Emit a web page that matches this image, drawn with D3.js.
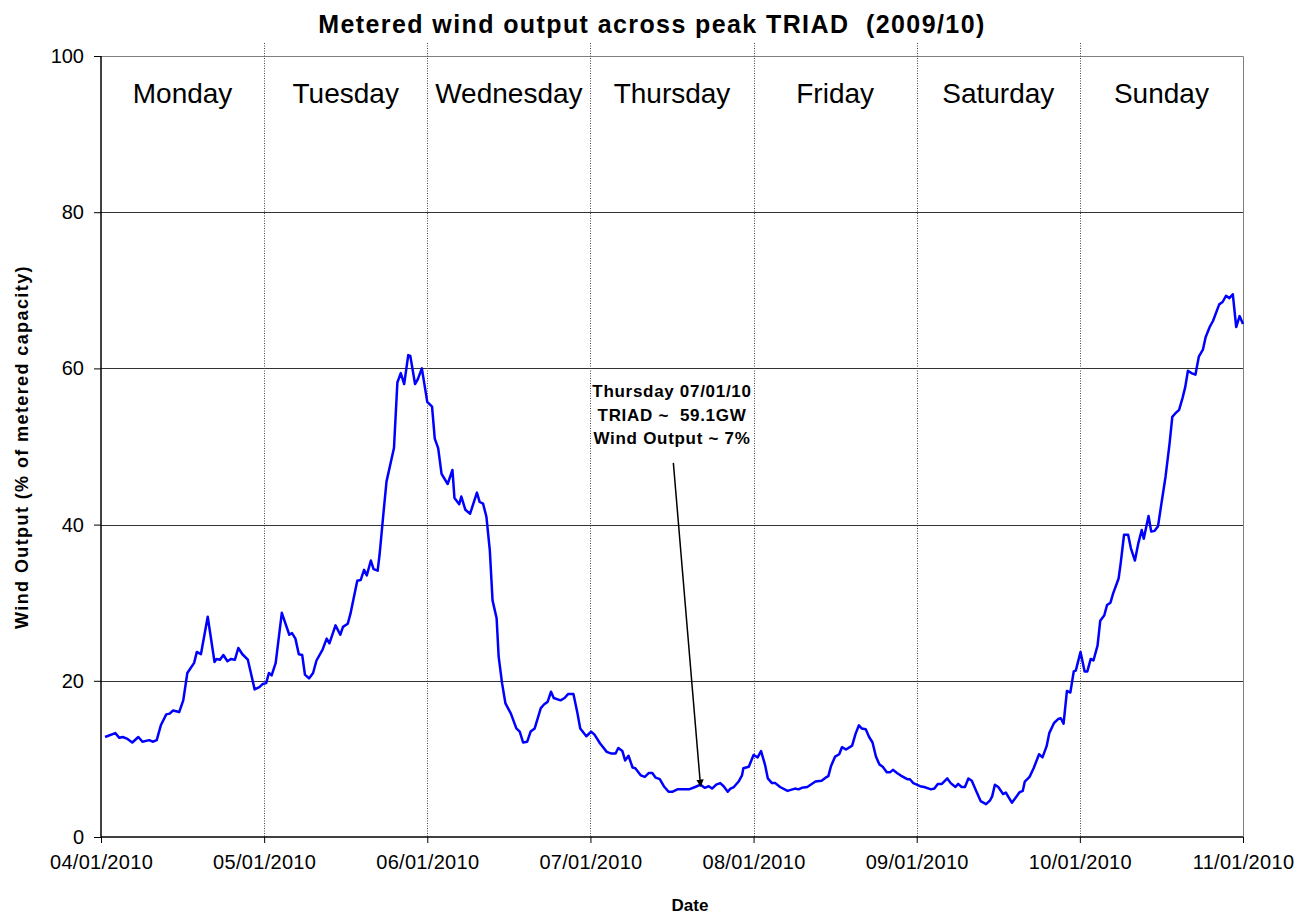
<!DOCTYPE html>
<html>
<head>
<meta charset="utf-8">
<script src="https://cdn.jsdelivr.net/npm/d3@7"></script>
<style>
    body { margin: 0; background: #fff; }
    text { font-family: Arial, "Liberation Sans", sans-serif; }
</style>
</head>
<body>
<div class="chart__container"></div>
<script>
//initialisation
const CHART__WIDTH = 1295;
const CHART__HEIGHT = 916;

const START_DATE = new Date(2010, 0, 4);
const DAY_NAMES = ["Monday", "Tuesday", "Wednesday", "Thursday", "Friday", "Saturday", "Sunday"];
const Y_TICKS = [0, 20, 40, 60, 80, 100];

//hours after 04/01/2010 00:00
const HOURS = [
    0.6, 2.1, 2.7, 3.2, 3.8, 4.6, 5.5, 6.1, 7.1, 7.6, 8.2, 8.8, 9.6, 10.1, 10.6, 11.5, 12.1, 12.7, 13.7, 14.1,
    14.7, 15.7, 16.7, 17.0, 17.5, 18.0, 18.6, 19.1, 19.7, 20.2, 20.8, 21.6, 22.0, 22.6, 23.3, 23.8, 24.3, 24.7, 25.1, 25.7,
    26.6, 27.7, 28.1, 28.6, 29.1, 29.6, 30.0, 30.6, 31.2, 31.7, 32.6, 33.2, 33.6, 34.5, 35.2, 35.6, 36.3, 36.7, 37.7, 38.2,
    38.7, 39.1, 39.7, 40.1, 40.7, 41.0, 41.5, 42.0, 43.1, 43.6, 44.1, 44.6, 45.2, 45.5, 46.2, 46.6, 47.2, 48.0, 48.7, 49.1,
    49.6, 50.1, 51.0, 51.7, 52.0, 52.7, 53.0, 53.6, 54.3, 55.3, 55.7, 56.2, 56.7, 57.2, 57.6, 58.2, 58.5, 59.0, 59.5, 60.3,
    61.1, 61.6, 62.1, 62.7, 63.2, 63.8, 64.7, 65.2, 65.7, 66.2, 66.6, 67.6, 68.2, 68.7, 69.5, 70.1, 70.5, 71.4, 72.1, 72.6,
    73.4, 74.4, 75.0, 75.7, 76.1, 76.7, 77.1, 77.6, 78.2, 78.6, 79.4, 80.0, 80.6, 81.1, 81.6, 82.2, 82.8, 83.5, 84.1, 84.8,
    86.5, 87.4, 88.2, 88.8, 89.4, 89.9, 90.5, 91.1, 91.6, 92.2, 92.6, 93.1, 93.8, 94.3, 94.5, 95.3, 96.0, 96.6, 97.1, 97.7,
    98.1, 98.7, 99.2, 99.9, 101.0, 102.1, 102.6, 103.1, 103.9, 105.1, 106.0, 106.6, 107.0, 107.4, 108.0, 108.6, 109.0, 109.6, 110.5, 111.0,
    111.5, 111.9, 112.5, 113.0, 113.5, 114.0, 114.5, 115.0, 115.6, 116.1, 116.5, 117.1, 117.6, 118.6, 119.0, 119.5, 120.0, 120.5, 121.1, 122.1,
    122.6, 123.1, 123.7, 124.5, 125.0, 125.7, 126.1, 126.6, 127.1, 127.6, 128.1, 128.8, 129.4, 130.2, 130.8, 131.1, 131.5, 132.0, 132.7, 133.1,
    134.0, 134.6, 135.1, 135.6, 135.9, 136.6, 137.2, 138.0, 138.5, 139.1, 139.5, 140.2, 140.8, 141.2, 141.6, 142.1, 142.6, 143.1, 143.4, 144.1,
    144.7, 145.1, 145.6, 146.0, 146.6, 147.0, 147.6, 148.0, 148.5, 148.9, 149.7, 150.0, 150.5, 151.1, 151.5, 152.1, 152.6, 153.1, 153.4, 154.1,
    154.5, 155.0, 155.5, 156.0, 156.6, 157.2, 157.6, 158.0, 158.6, 159.1, 159.5, 159.9, 160.4, 161.0, 161.5, 162.1, 162.5, 163.1, 163.6, 164.5,
    165.0, 165.5, 166.0, 166.5, 167.0, 167.5, 168.0
];

//wind output, % of metered capacity
const OUTPUT = [
    12.8, 13.3, 12.7, 12.8, 12.6, 12.1, 12.8, 12.2, 12.4, 12.2, 12.4, 14.3, 15.7, 15.8, 16.2, 16.0, 17.5, 21.0, 22.3, 23.7,
    23.4, 28.2, 22.4, 22.8, 22.7, 23.3, 22.5, 22.8, 22.7, 24.2, 23.4, 22.7, 21.2, 18.9, 19.2, 19.6, 19.7, 21.0, 20.7, 22.3,
    28.7, 25.9, 26.1, 25.4, 23.4, 23.3, 20.8, 20.3, 21.0, 22.6, 24.0, 25.4, 24.8, 27.1, 25.9, 26.9, 27.3, 28.6, 32.8, 32.9,
    34.2, 33.5, 35.4, 34.3, 34.1, 36.3, 41.0, 45.5, 49.8, 58.2, 59.4, 58.0, 61.7, 61.6, 58.0, 58.6, 60.0, 55.7, 55.1, 51.0,
    49.8, 46.5, 45.2, 47.0, 43.4, 42.6, 43.6, 41.9, 41.4, 44.1, 42.9, 42.7, 41.0, 36.7, 30.3, 28.0, 23.1, 19.7, 17.1, 15.8,
    13.9, 13.5, 12.1, 12.2, 13.5, 13.9, 16.5, 17.0, 17.3, 18.6, 17.8, 17.5, 17.8, 18.3, 18.3, 15.8, 13.9, 12.9, 13.5, 13.1,
    12.0, 10.9, 10.7, 10.7, 11.4, 11.0, 9.8, 10.4, 8.9, 8.8, 7.9, 7.7, 8.2, 8.2, 7.6, 7.4, 6.5, 5.8, 5.8, 6.1,
    6.1, 6.4, 6.7, 6.3, 6.5, 6.2, 6.7, 6.9, 6.5, 5.8, 6.2, 6.4, 7.1, 7.9, 8.8, 9.0, 10.5, 10.2, 11.0, 9.2,
    7.5, 6.9, 6.9, 6.4, 5.9, 6.2, 6.1, 6.3, 6.4, 7.1, 7.2, 7.6, 7.8, 9.1, 10.3, 10.6, 11.5, 11.2, 11.7, 13.2,
    14.3, 13.9, 13.8, 12.8, 12.1, 10.3, 9.3, 9.0, 8.3, 8.3, 8.6, 8.2, 7.9, 7.4, 7.4, 6.9, 6.7, 6.5, 6.4, 6.1,
    6.2, 6.8, 6.8, 7.5, 6.9, 6.4, 6.8, 6.4, 6.4, 7.5, 7.2, 5.8, 4.6, 4.2, 4.7, 5.2, 6.7, 6.4, 5.5, 5.7,
    4.4, 5.1, 5.7, 5.9, 7.1, 7.7, 8.8, 10.6, 10.2, 11.6, 13.3, 14.6, 15.1, 15.2, 14.5, 18.7, 18.5, 21.2, 21.3, 23.7,
    21.2, 21.2, 22.8, 22.6, 24.5, 27.7, 28.4, 29.7, 30.0, 31.2, 33.1, 35.0, 38.7, 38.7, 37.0, 35.4, 37.6, 39.3, 38.2, 41.1,
    39.1, 39.2, 39.8, 42.7, 46.1, 50.4, 53.8, 54.2, 54.7, 56.2, 57.6, 59.7, 59.4, 59.2, 61.5, 62.4, 64.0, 65.3, 66.1, 68.2,
    68.5, 69.3, 69.0, 69.5, 65.3, 66.7, 65.7
];

//annotation: arrow from text down to the TRIAD half hour
const NOTE_LINES = ["Thursday 07/01/10", "TRIAD ~  59.1GW", "Wind Output ~ 7%"];
const ARROW_FROM = { hour: 84.2, value: 47.9 };
const ARROW_TO = { hour: 88.2, value: 6.5 };

const MARGIN = {
    top: 56,
    right: 52,
    bottom: 79,
    left: 101
}

const toDate = h => d3.timeMinute.offset(START_DATE, Math.round(h * 60));
const END_DATE = d3.timeDay.offset(START_DATE, 7);
const DAYS = d3.timeDay.range(START_DATE, d3.timeDay.offset(END_DATE, 1));

const data = HOURS.map((h, i) => ({ date: toDate(h), value: OUTPUT[i] }));

//scales
const xScale = d3.scaleTime().domain([START_DATE, END_DATE]).range([MARGIN.left, CHART__WIDTH - MARGIN.right]);
const yScale = d3.scaleLinear().domain([0, 100]).range([CHART__HEIGHT - MARGIN.bottom, MARGIN.top]);

/*-----------------------------------Create element-----------------------------------*/

const svg = d3.select(".chart__container").append("svg")
    .attr("width", CHART__WIDTH)
    .attr("height", CHART__HEIGHT);

svg.append("defs").append("marker")
    .attr("id", "arrowhead")
    .attr("viewBox", "0 0 10 10")
    .attr("refX", 9)
    .attr("refY", 5)
    .attr("markerWidth", 5)
    .attr("markerHeight", 5)
    .attr("orient", "auto")
    .append("path")
    .attr("d", "M0,0 L10,5 L0,10 z")
    .attr("fill", "#000");

//horizontal grid
svg.append("g")
    .selectAll("line")
    .data(Y_TICKS.slice(1, -1))
    .enter()
    .append("line")
    .attr("x1", MARGIN.left)
    .attr("x2", CHART__WIDTH - MARGIN.right)
    .attr("y1", d => Math.round(yScale(d)) + 0.5)
    .attr("y2", d => Math.round(yScale(d)) + 0.5)
    .attr("stroke", "#333")
    .attr("stroke-width", 1);

//plot frame top and right
svg.append("path")
    .attr("d", `M${MARGIN.left},${yScale(100) + 0.5} H${CHART__WIDTH - MARGIN.right + 0.5} V${yScale(0)}`)
    .attr("fill", "none")
    .attr("stroke", "#808080")
    .attr("stroke-width", 1);

//dotted day separators
svg.append("g")
    .selectAll("line")
    .data(DAYS.slice(1, -1))
    .enter()
    .append("line")
    .attr("x1", d => Math.round(xScale(d)) + 0.5)
    .attr("x2", d => Math.round(xScale(d)) + 0.5)
    .attr("y1", yScale(100) - 13)
    .attr("y2", yScale(0))
    .attr("stroke", "#444")
    .attr("stroke-width", 1)
    .attr("stroke-dasharray", "1,1.5");

//day names
svg.append("g")
    .selectAll("text")
    .data(DAY_NAMES)
    .enter()
    .append("text")
    .attr("x", (d, i) => (xScale(DAYS[i]) + xScale(DAYS[i + 1])) / 2)
    .attr("y", 103)
    .attr("text-anchor", "middle")
    .attr("font-size", "28px")
    .attr("fill", "#000")
    .text(d => d);

//wind line
const line = d3.line()
    .x(d => xScale(d.date))
    .y(d => yScale(d.value));

svg.append("path")
    .datum(data)
    .attr("d", line)
    .attr("fill", "none")
    .attr("stroke", "#0000ff")
    .attr("stroke-width", 2.5)
    .attr("stroke-linejoin", "round");

//annotation
svg.append("line")
    .attr("x1", xScale(toDate(ARROW_FROM.hour)))
    .attr("y1", yScale(ARROW_FROM.value))
    .attr("x2", xScale(toDate(ARROW_TO.hour)))
    .attr("y2", yScale(ARROW_TO.value))
    .attr("stroke", "#000")
    .attr("stroke-width", 1.5)
    .attr("marker-end", "url(#arrowhead)");

svg.append("g")
    .selectAll("text")
    .data(NOTE_LINES)
    .enter()
    .append("text")
    .attr("x", 672)
    .attr("y", (d, i) => 397 + i * 23.5)
    .attr("text-anchor", "middle")
    .attr("font-size", "17px")
    .attr("font-weight", "bold")
    .attr("letter-spacing", "0.7px")
    .attr("xml:space", "preserve")
    .text(d => d);

//create x-axis
const abscissa = d3.axisBottom(xScale)
    .tickValues(DAYS)
    .tickFormat(d3.timeFormat("%d/%m/%Y"))
    .tickSize(6)
    .tickPadding(12);
const xAxis = svg.append("g")
    .attr("id", "x-axis")
    .attr("transform", `translate(0,${yScale(0)})`)
    .call(abscissa);

//create y-axis
const ordinate = d3.axisLeft(yScale)
    .tickValues(Y_TICKS)
    .tickSize(7)
    .tickPadding(10);
const yAxis = svg.append("g")
    .attr("id", "y-axis")
    .attr("transform", `translate(${MARGIN.left},0)`)
    .call(ordinate);

[xAxis, yAxis].forEach(g => {
    g.select(".domain").attr("stroke", "#000").attr("stroke-width", 1.5);
    g.selectAll(".tick line").attr("stroke", "#000");
    g.selectAll(".tick text")
        .attr("font-size", "20px")
        .attr("font-family", "Arial, 'Liberation Sans', sans-serif")
        .attr("fill", "#000");
});
xAxis.selectAll(".tick text").attr("letter-spacing", "0.3px");
xAxis.select(".domain").attr("d", `M${MARGIN.left},0H${CHART__WIDTH - MARGIN.right}`);
yAxis.select(".domain").attr("d", `M0,${yScale(0)}V${yScale(100)}`);

//titles
svg.append("text")
    .attr("x", 652)
    .attr("y", 33)
    .attr("text-anchor", "middle")
    .attr("font-size", "25px")
    .attr("font-weight", "bold")
    .attr("letter-spacing", "1.4px")
    .attr("xml:space", "preserve")
    .text("Metered wind output across peak TRIAD  (2009/10)");

svg.append("text")
    .attr("transform", `translate(28,447) rotate(-90)`)
    .attr("text-anchor", "middle")
    .attr("font-size", "18px")
    .attr("font-weight", "bold")
    .attr("letter-spacing", "1.4px")
    .text("Wind Output (% of metered capacity)");

svg.append("text")
    .attr("x", 690)
    .attr("y", 911)
    .attr("text-anchor", "middle")
    .attr("font-size", "17px")
    .attr("font-weight", "bold")
    .text("Date");
</script>
</body>
</html>
